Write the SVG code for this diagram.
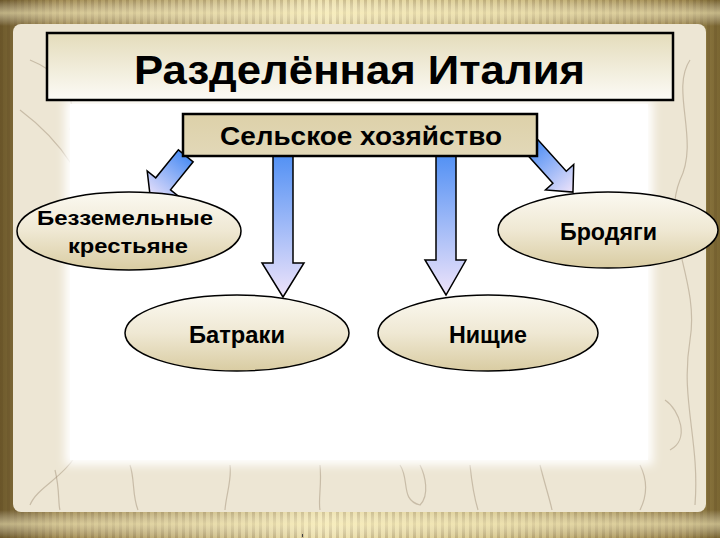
<svg xmlns="http://www.w3.org/2000/svg" width="720" height="540" viewBox="0 0 720 540">
<defs>
<linearGradient id="goldH" x1="0" y1="0" x2="1" y2="0">
<stop offset="0" stop-color="#6e5a2c"/>
<stop offset="0.08" stop-color="#a48e55"/>
<stop offset="0.45" stop-color="#efe3b0"/>
<stop offset="0.7" stop-color="#d8c88e"/>
<stop offset="0.95" stop-color="#a08a50"/>
<stop offset="1" stop-color="#7a6632"/>
</linearGradient>
<linearGradient id="goldV" x1="0" y1="0" x2="0" y2="1">
<stop offset="0" stop-color="#ffffff" stop-opacity="0"/>
<stop offset="0.5" stop-color="#fff6c8" stop-opacity="0.55"/>
<stop offset="1" stop-color="#ffffff" stop-opacity="0"/>
</linearGradient>
<pattern id="stripes" width="7" height="10" patternUnits="userSpaceOnUse">
<rect x="0" y="0" width="3" height="10" fill="#5a4620" fill-opacity="0.22"/>
</pattern>
<linearGradient id="titleG" x1="0" y1="0" x2="0" y2="1">
<stop offset="0" stop-color="#e4dcbb"/>
<stop offset="1" stop-color="#fcfbf6"/>
</linearGradient>
<linearGradient id="subG" x1="0" y1="0" x2="0" y2="1">
<stop offset="0" stop-color="#ddd1a9"/>
<stop offset="1" stop-color="#e2d8b8"/>
</linearGradient>
<linearGradient id="ellG" x1="0" y1="0" x2="0" y2="1">
<stop offset="0" stop-color="#fbf9f1"/>
<stop offset="0.5" stop-color="#efe8d3"/>
<stop offset="1" stop-color="#d9cca2"/>
</linearGradient>
<linearGradient id="arrG" x1="0" y1="0" x2="0" y2="1">
<stop offset="0" stop-color="#4d8ef4"/>
<stop offset="1" stop-color="#eee3fa"/>
</linearGradient>
<filter id="soft" x="-10%" y="-10%" width="120%" height="120%">
<feGaussianBlur stdDeviation="5"/>
</filter>
<style>
.box{stroke:#000;stroke-width:2.5}
.ell{fill:url(#ellG);stroke:#000;stroke-width:1.5}
.arr{fill:url(#arrG);stroke:#000;stroke-width:1.5;stroke-linejoin:miter}
.lbl{font-family:"Liberation Sans",Arial,sans-serif;font-weight:bold;fill:#000;text-anchor:middle}
.tex{fill:none;stroke:#9c8a70;stroke-opacity:0.45;stroke-width:1.2}
</style>
</defs>

<!-- gold frame -->
<rect x="0" y="0" width="720" height="540" fill="#ffffff"/>
<rect x="0" y="0" width="720" height="538" fill="url(#goldH)"/>
<rect x="0" y="0" width="720" height="538" fill="url(#stripes)"/>
<rect x="0" y="0" width="720" height="26" fill="url(#goldV)"/>
<rect x="0" y="510" width="720" height="28" fill="url(#goldV)"/>

<!-- parchment panel -->
<rect x="13" y="24" width="693" height="488" rx="8" fill="#ede6d4"/>
<g class="tex">
<path d="M20,110 C60,140 90,180 100,240 C110,300 60,360 80,420 C90,470 40,480 30,505"/>
<path d="M30,60 C55,70 80,90 70,130"/>
<path d="M55,470 C60,490 58,505 60,510"/>
<path d="M130,465 C135,480 132,495 138,510"/>
<path d="M230,465 C232,480 226,495 225,510"/>
<path d="M320,465 C322,485 318,500 320,510"/>
<path d="M400,465 C410,480 400,500 420,505 C430,495 425,475 420,465"/>
<path d="M470,465 C472,485 475,500 478,510"/>
<path d="M540,465 C545,485 550,500 552,510"/>
<path d="M640,465 C650,485 645,500 640,510"/>
<path d="M690,60 C670,90 700,140 680,180 C660,230 700,280 690,340 C680,400 700,440 695,505"/>
<path d="M665,400 C680,410 690,440 670,450"/>
</g>
<rect x="65" y="100" width="588" height="365" fill="#ffffff" filter="url(#soft)"/>
<rect x="70" y="104" width="578" height="356" fill="#ffffff"/>

<!-- connectors -->
<g id="connectors">
<path class="arr" transform="translate(182,160.5) rotate(39)" d="M-9.5,-6 L9.5,-6 L9.5,30 L20.5,30 L0,50 L-20.5,30 L-9.5,30 Z"/>
<path class="arr" transform="translate(535.5,150.5) rotate(-42)" d="M-9,-6 L9,-6 L9,36 L19,36 L0,56 L-19,36 L-9,36 Z"/>
<path class="arr" d="M273,150 L293,150 L293,263 L304,263 L283,297 L262,263 L273,263 Z"/>
<path class="arr" d="M436,150 L456,150 L456,260 L466,260 L446,295 L425,260 L436,260 Z"/>
</g>

<!-- title -->
<g id="title">
<rect class="box" x="47" y="33" width="626" height="67" fill="url(#titleG)"/>
<text class="lbl" x="359.5" y="84" font-size="41" textLength="451" lengthAdjust="spacingAndGlyphs">Разделённая Италия</text>
</g>

<g id="agriculture">
<rect class="box" x="183" y="114" width="354" height="42" fill="url(#subG)"/>
<text class="lbl" x="361" y="145" font-size="26" textLength="282" lengthAdjust="spacingAndGlyphs">Сельское хозяйство</text>
</g>

<g id="landless">
<ellipse class="ell" cx="129" cy="231" rx="112" ry="39"/>
<text class="lbl" x="125" y="225" font-size="21" textLength="176" lengthAdjust="spacingAndGlyphs">Безземельные</text>
<text class="lbl" x="128" y="253" font-size="21" textLength="120" lengthAdjust="spacingAndGlyphs">крестьяне</text>
</g>

<g id="batraki">
<ellipse class="ell" cx="237" cy="333" rx="112" ry="38"/>
<text class="lbl" x="237" y="343" font-size="23" textLength="96" lengthAdjust="spacingAndGlyphs">Батраки</text>
</g>

<g id="nishchie">
<ellipse class="ell" cx="488" cy="333" rx="110" ry="38"/>
<text class="lbl" x="488" y="343" font-size="23" textLength="78" lengthAdjust="spacingAndGlyphs">Нищие</text>
</g>

<g id="brodyagi">
<ellipse class="ell" cx="608" cy="230" rx="110" ry="38"/>
<text class="lbl" x="608.5" y="240" font-size="23" textLength="97" lengthAdjust="spacingAndGlyphs">Бродяги</text>
</g>

<rect x="302" y="534" width="1" height="3" fill="#444"/>
</svg>
